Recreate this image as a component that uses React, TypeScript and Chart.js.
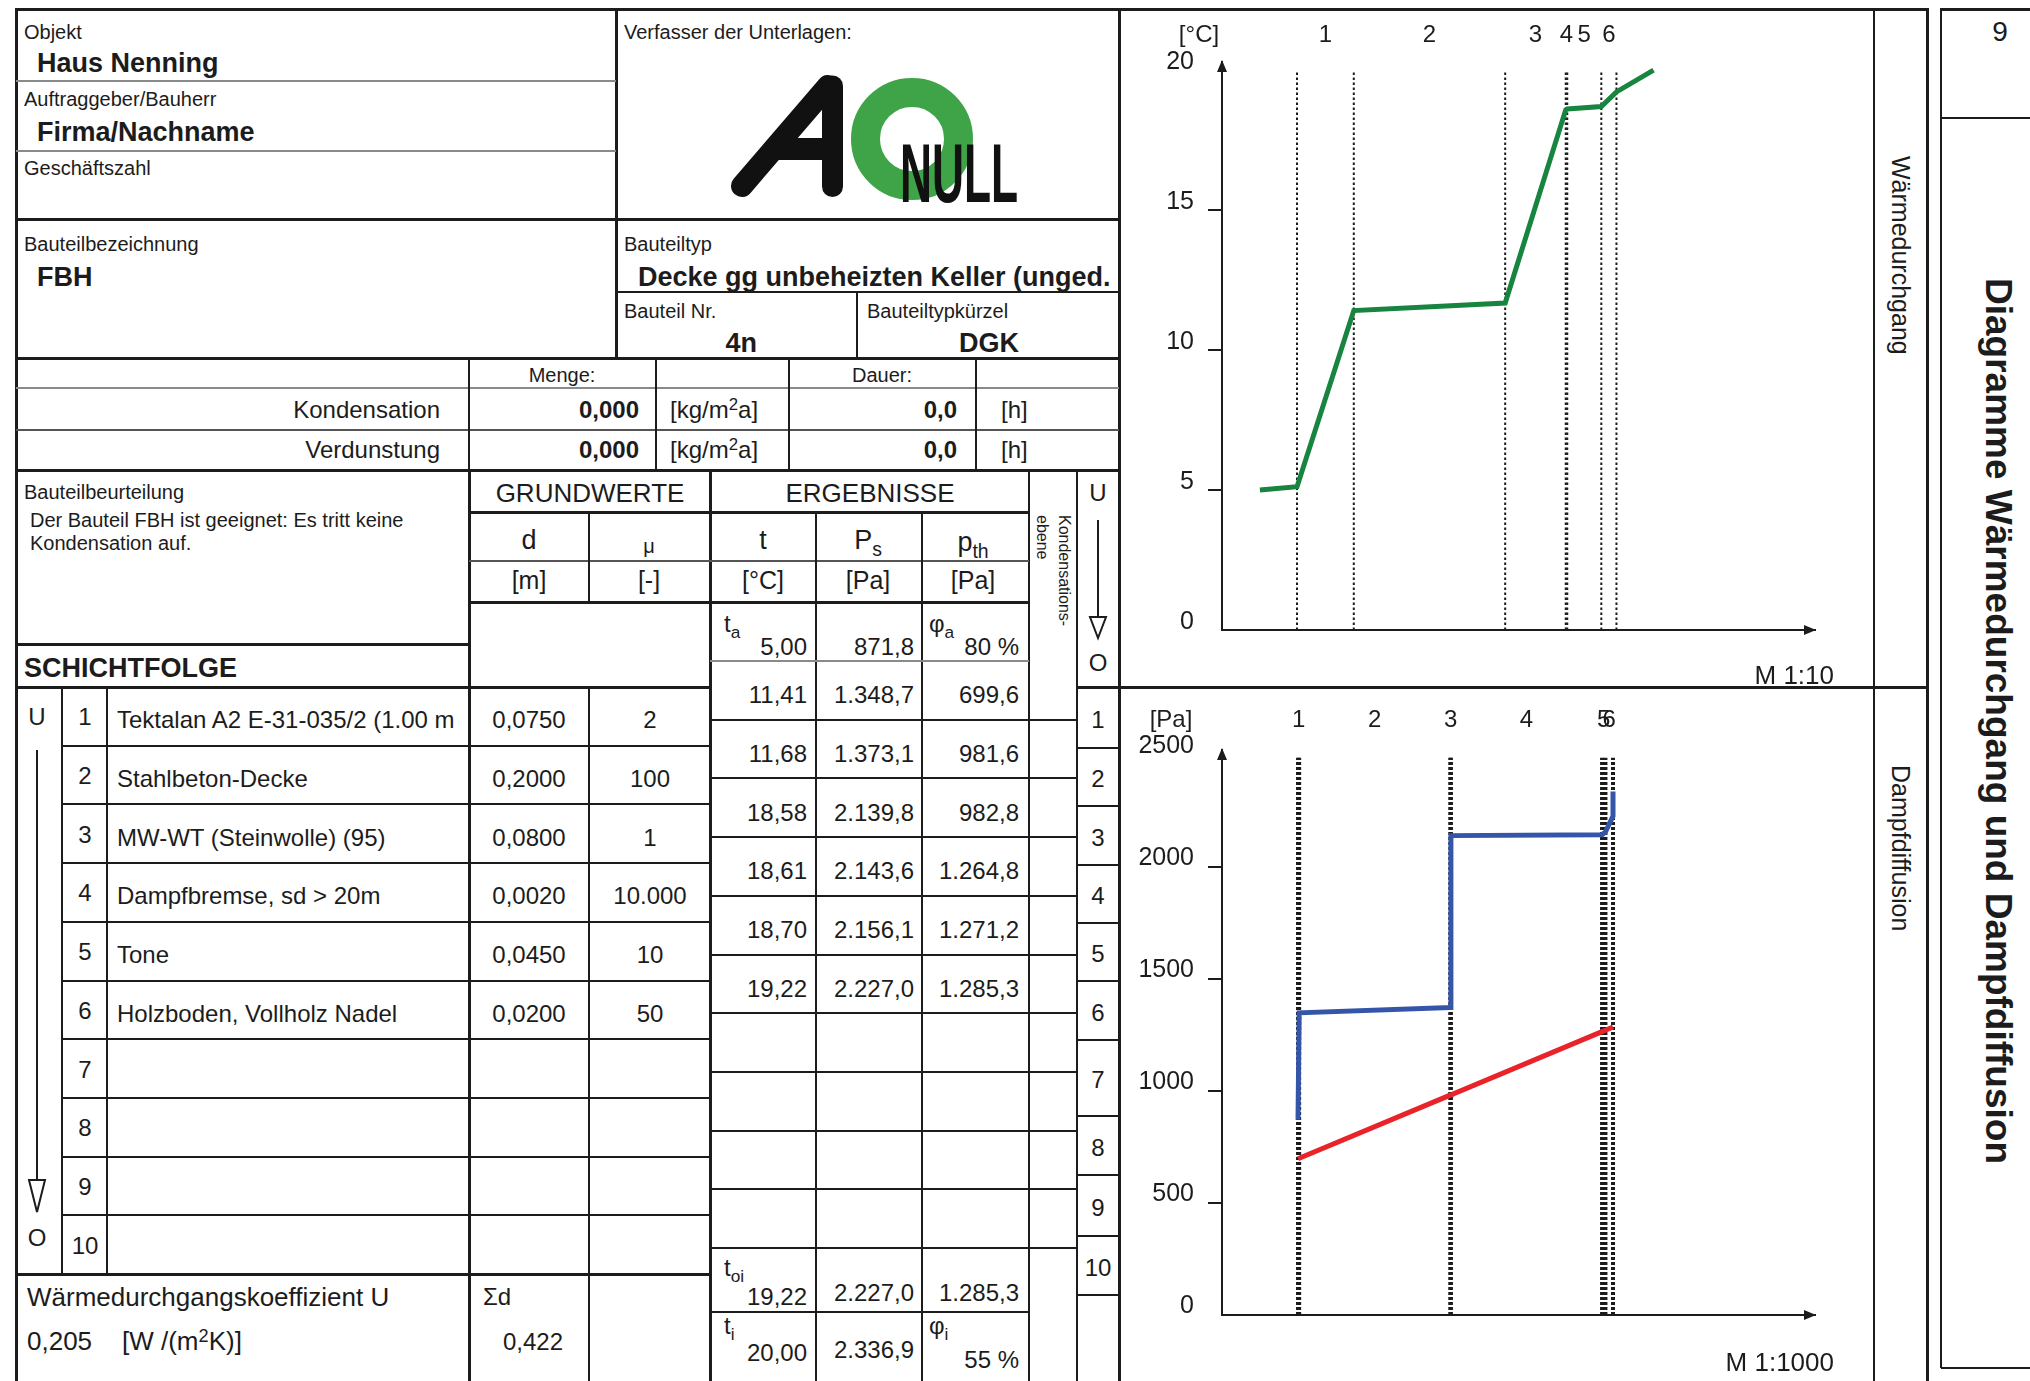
import React, { useEffect, useRef } from 'react';
import { Chart, registerables } from 'chart.js';

Chart.register(...registerables);

// ---------- component data ----------
const objectName = 'Haus Nenning';
const clientName = 'Firma/Nachname';
const elementName = 'FBH';
const elementType = 'Decke gg unbeheizten Keller (unged.';
const elementNo = '4n';
const elementCode = 'DGK';

const layerNo = [1, 2, 3, 4, 5, 6, 7, 8, 9, 10];
const layerNames = [
  'Tektalan A2 E-31-035/2 (1.00 m',
  'Stahlbeton-Decke',
  'MW-WT (Steinwolle) (95)',
  'Dampfbremse, sd > 20m',
  'Tone',
  'Holzboden, Vollholz Nadel',
];
const layerD = [0.075, 0.2, 0.08, 0.002, 0.045, 0.02];
const layerMu = [2, 100, 1, 10000, 10, 50];

// results at the interface after each layer (outside -> inside)
const interfaceT = [11.41, 11.68, 18.58, 18.61, 18.7, 19.22];
const interfacePs = [1348.7, 1373.1, 2139.8, 2143.6, 2156.1, 2227.0];
const interfacePth = [699.6, 981.6, 982.8, 1264.8, 1271.2, 1285.3];

const outsideT = 5.0;
const outsidePs = 871.8;
const outsidePhi = 80;
const outsideP = 697.4;
const surfaceOutT = 5.12;
const surfaceInT = 19.22;
const surfaceInPs = 2227.0;
const surfaceInP = 1285.3;
const insideT = 20.0;
const insidePs = 2336.9;
const insidePhi = 55;

const uValue = 0.205;
const condensationAmount = 0;
const condensationHours = 0;
const evaporationAmount = 0;
const evaporationHours = 0;

const tempTicks = [0, 5, 10, 15, 20];
const pressureTicks = [0, 500, 1000, 1500, 2000, 2500];

// width of the air boundary layer drawn on each side of the temperature profile [m]
const airBand = 0.049;

// ---------- helpers ----------
const INK = '#1c1c1c';
const FONT = '"Liberation Sans", Arial, Helvetica, sans-serif';

const fmt = (v: number, dec: number) => {
  const [i, f] = v.toFixed(dec).split('.');
  const int = i.replace(/\B(?=(\d{3})+(?!\d))/g, '.');
  return f ? `${int},${f}` : int;
};

const cumulative = (vals: number[]) => {
  const out = [0];
  vals.forEach((v) => out.push(out[out.length - 1] + v));
  return out;
};

const xD = cumulative(layerD); // positions in m
const xSd = cumulative(layerD.map((d, i) => d * layerMu[i])); // positions in sd [m]
const sumD = layerD.reduce((a, b) => a + b, 0);

type TProps = {
  x: number;
  y: number;
  a?: 'l' | 'c' | 'r';
  s?: number;
  b?: boolean;
  children: React.ReactNode;
  st?: React.CSSProperties;
};
const T = ({ x, y, a = 'l', s = 24, b = false, children, st }: TProps) => (
  <div
    style={{
      position: 'absolute',
      left: x,
      top: y,
      transform: `translate(${a === 'l' ? '0' : a === 'c' ? '-50%' : '-100%'},-50%)`,
      fontSize: s,
      fontWeight: b ? 700 : 400,
      lineHeight: 1,
      whiteSpace: 'nowrap',
      ...st,
    }}
  >
    {children}
  </div>
);
const Sub = ({ children }: { children: React.ReactNode }) => (
  <span style={{ fontSize: '0.72em', position: 'relative', top: '0.35em' }}>{children}</span>
);
const Sup = ({ children }: { children: React.ReactNode }) => (
  <span style={{ fontSize: '0.7em', position: 'relative', top: '-0.45em' }}>{children}</span>
);
const HL = ({ x1, x2, y, w = 2, c = INK }: { x1: number; x2: number; y: number; w?: number; c?: string }) => (
  <div style={{ position: 'absolute', left: x1, top: y - w / 2, width: x2 - x1, height: w, background: c }} />
);
const VL = ({ x, y1, y2, w = 2, c = INK }: { x: number; y1: number; y2: number; w?: number; c?: string }) => (
  <div style={{ position: 'absolute', left: x - w / 2, top: y1, width: w, height: y2 - y1, background: c }} />
);
const VText = ({ x, y, s, b = false, lh, children }: { x: number; y: number; s: number; b?: boolean; lh?: number; children: React.ReactNode }) => (
  <div
    style={{
      position: 'absolute',
      left: x,
      top: y,
      writingMode: 'vertical-rl',
      fontSize: s,
      fontWeight: b ? 700 : 400,
      lineHeight: lh ? `${lh}px` : 1,
      whiteSpace: 'pre',
    }}
  >
    {children}
  </div>
);
const DownArrow = ({ x, y1, y2, y3 }: { x: number; y1: number; y2: number; y3: number }) => (
  <svg style={{ position: 'absolute', left: x - 12, top: y1 }} width={24} height={y3 - y1 + 3}>
    <line x1={12} y1={0} x2={12} y2={y3 - y1} stroke={INK} strokeWidth={2} />
    <polygon points={`4,${y2 - y1} 20,${y2 - y1} 12,${y3 - y1}`} fill="#fff" stroke={INK} strokeWidth={2} />
  </svg>
);

// ---------- chart ----------
type ProfileOpts = {
  lines: { pts: { x: number; y: number }[]; color: string }[];
  bounds: number[];
  boundTop: number;
  dashW: number;
  dash: number[];
  xMin: number;
  xMax: number;
  yMax: number;
  ticks: number[];
  padTop: number;
  padBottom: number;
  mids: number[];
  labelDy: number;
  unit: string;
  unitDx: number;
  labelOffset: number;
};

const makeConfig = (o: ProfileOpts): any => {
  const topTick = o.ticks[o.ticks.length - 1];
  const decor = {
    id: 'profileDecor',
    afterDraw(chart: any) {
      const { ctx, chartArea } = chart;
      const xs = chart.scales.x;
      ctx.save();
      ctx.fillStyle = INK;
      // arrow heads on both axes
      ctx.beginPath();
      ctx.moveTo(chartArea.left, chartArea.top - 2);
      ctx.lineTo(chartArea.left - 5, chartArea.top + 10);
      ctx.lineTo(chartArea.left + 5, chartArea.top + 10);
      ctx.closePath();
      ctx.fill();
      ctx.beginPath();
      ctx.moveTo(chartArea.right + 1, chartArea.bottom);
      ctx.lineTo(chartArea.right - 11, chartArea.bottom - 5);
      ctx.lineTo(chartArea.right - 11, chartArea.bottom + 5);
      ctx.closePath();
      ctx.fill();
      // layer numbers and unit
      ctx.font = `24px ${FONT}`;
      ctx.textAlign = 'center';
      ctx.textBaseline = 'middle';
      const ly = chartArea.top + o.labelDy;
      o.mids.forEach((m, i) => ctx.fillText(String(layerNo[i]), xs.getPixelForValue(m), ly));
      ctx.fillText(o.unit, chartArea.left + o.unitDx, ly);
      ctx.restore();
    },
  };
  const datasets: any[] = [
    ...o.lines.map((l) => ({
      data: l.pts,
      borderColor: l.color,
      borderWidth: 5,
      pointRadius: 0,
      tension: 0,
      borderJoinStyle: 'miter',
    })),
    ...o.bounds.map((b) => ({
      data: [
        { x: b, y: 0 },
        { x: b, y: o.boundTop },
      ],
      borderColor: INK,
      borderWidth: o.dashW,
      borderDash: o.dash,
      borderCapStyle: 'butt',
      pointRadius: 0,
    })),
  ];
  return {
    type: 'line',
    data: { datasets },
    options: {
      animation: false,
      responsive: false,
      events: [],
      layout: { padding: { left: 0, right: 15, top: o.padTop, bottom: o.padBottom } },
      plugins: { legend: { display: false }, tooltip: { enabled: false } },
      scales: {
        x: {
          type: 'linear',
          min: o.xMin,
          max: o.xMax,
          ticks: { display: false },
          grid: { display: false },
          border: { display: true, color: INK, width: 2 },
          afterFit: (s: any) => {
            s.height = 0;
          },
        },
        y: {
          type: 'linear',
          min: 0,
          max: o.yMax,
          afterBuildTicks: (s: any) => {
            s.ticks = o.ticks.map((v) => ({ value: v }));
          },
          ticks: {
            padding: 14,
            labelOffset: o.labelOffset,
            color: INK,
            font: { family: FONT, size: 25 },
            callback: (v: any) => String(v),
          },
          grid: {
            drawOnChartArea: false,
            drawTicks: true,
            tickLength: 14,
            lineWidth: 2,
            color: (c: any) =>
              c.tick && (c.tick.value === 0 || c.tick.value === topTick) ? 'rgba(0,0,0,0)' : INK,
          },
          border: { display: true, color: INK, width: 2 },
          afterFit: (s: any) => {
            s.width = 92;
          },
        },
      },
    },
    plugins: [decor],
  };
};

const ChartCanvas = ({ left, top, w, h, opts }: { left: number; top: number; w: number; h: number; opts: ProfileOpts }) => {
  const ref = useRef<HTMLCanvasElement>(null);
  useEffect(() => {
    const chart = new Chart(ref.current as HTMLCanvasElement, makeConfig(opts));
    return () => chart.destroy();
  }, []);
  return (
    <canvas
      ref={ref}
      width={w}
      height={h}
      style={{ position: 'absolute', left, top, width: w, height: h }}
    />
  );
};

const mid = (arr: number[]) => arr.slice(0, -1).map((v, i) => (v + arr[i + 1]) / 2);

const tempProfile = [
  { x: -airBand, y: outsideT },
  { x: 0, y: surfaceOutT },
  ...interfaceT.map((t, i) => ({ x: xD[i + 1], y: t })),
  { x: xD[xD.length - 1] + airBand, y: insideT },
];
const psProfile = [
  { x: 0, y: outsidePs },
  ...interfacePs.map((p, i) => ({ x: xSd[i + 1], y: p })),
  { x: xSd[xSd.length - 1], y: insidePs },
];
const pProfile = [{ x: 0, y: outsideP }, ...interfacePth.map((p, i) => ({ x: xSd[i + 1], y: p }))];

const heatOpts: ProfileOpts = {
  lines: [{ pts: tempProfile, color: '#17843f' }],
  bounds: xD,
  boundTop: 20,
  dashW: 2,
  dash: [2.5, 2.5],
  xMin: -0.0991,
  xMax: 0.6843,
  yMax: 20.29,
  ticks: tempTicks,
  padTop: 42,
  padBottom: 50,
  mids: mid(xD),
  labelDy: -27,
  unit: '[°C]',
  unitDx: -23,
  labelOffset: -8,
};
const vapourOpts: ProfileOpts = {
  lines: [
    { pts: psProfile, color: '#3556a8' },
    { pts: pProfile, color: '#e8232a' },
  ],
  bounds: xSd,
  boundTop: 2487,
  dashW: 4,
  dash: [3, 2],
  xMin: -10.06,
  xMax: 68.41,
  yMax: 2522,
  ticks: pressureTicks,
  padTop: 60,
  padBottom: 65,
  mids: mid(xSd),
  labelDy: -30,
  unit: '[Pa]',
  unitDx: -51,
  labelOffset: -9,
};

// ---------- sheet layout ----------
const ROW_H = 58.7;
const LAYER_TOP = 687;
const RES_TOP = 661;
const uColLines = [687, 748, 806, 865, 923, 981, 1040, 1116, 1175, 1236, 1295];

const Logo = () => (
  <svg style={{ position: 'absolute', left: 700, top: 60 }} width={350} height={160} viewBox="700 60 350 160">
    <circle cx={912} cy={139} r={46.5} fill="none" stroke="#3ea447" strokeWidth={29} />
    <g stroke="#111" fill="none">
      <line x1={742} y1={186} x2={828} y2={86} strokeWidth={22} strokeLinecap="round" />
      <line x1={832.5} y1={86} x2={832.5} y2={186.5} strokeWidth={21} strokeLinecap="round" />
      <line x1={778} y1={149} x2={832} y2={149} strokeWidth={22} />
    </g>
    <text
      x={900}
      y={202}
      fontFamily={FONT}
      fontWeight={700}
      fontSize={84}
      textLength={118}
      lengthAdjust="spacingAndGlyphs"
      fill="#111"
    >
      NULL
    </text>
  </svg>
);

export default function App() {
  const faint = '#8a8a8a';
  const mid2 = '#555';
  return (
    <div
      style={{
        position: 'absolute',
        left: 0,
        top: 0,
        width: 2030,
        height: 1381,
        overflow: 'hidden',
        background: '#fff',
        fontFamily: FONT,
        color: INK,
      }}
    >
      {/* outer frame */}
      <HL x1={15} x2={1928} y={9} w={3} />
      <VL x={16} y1={8} y2={1381} w={3} />
      <VL x={1119} y1={8} y2={1381} w={3} />
      <VL x={1874} y1={9} y2={1381} w={2} />
      <VL x={1927} y1={8} y2={1381} w={3} />
      <HL x1={1119} x2={1927} y={687} w={3} />
      {/* title box */}
      <HL x1={1940} x2={2030} y={9} w={3} />
      <VL x={1941} y1={8} y2={1368} w={2} />
      <HL x1={1941} x2={2030} y={118} w={2} />
      <HL x1={1941} x2={2030} y={1368} w={2} />

      {/* header blocks */}
      <VL x={616} y1={9} y2={358} w={3} />
      <HL x1={16} x2={616} y={81} w={2} c={faint} />
      <HL x1={16} x2={616} y={151} w={2} c={faint} />
      <HL x1={16} x2={1119} y={219} w={3} />
      <HL x1={616} x2={1119} y={292} w={2} />
      <VL x={857} y1={292} y2={358} w={2} />
      <HL x1={16} x2={1119} y={358} w={3} />
      <HL x1={16} x2={1119} y={388} w={2} c={faint} />
      <HL x1={16} x2={1119} y={430} w={2} c={mid2} />
      {[469, 656, 789, 976].map((x) => (
        <VL key={x} x={x} y1={358} y2={470} w={2} />
      ))}
      <HL x1={16} x2={1119} y={470} w={3} />

      <T x={24} y={32} s={20}>Objekt</T>
      <T x={37} y={63} s={27} b>{objectName}</T>
      <T x={24} y={99} s={20}>Auftraggeber/Bauherr</T>
      <T x={37} y={132} s={27} b>{clientName}</T>
      <T x={24} y={168} s={20}>Geschäftszahl</T>
      <T x={624} y={32} s={20}>Verfasser der Unterlagen:</T>
      <Logo />

      <T x={24} y={244} s={20}>Bauteilbezeichnung</T>
      <T x={37} y={277} s={27} b>{elementName}</T>
      <T x={624} y={244} s={20}>Bauteiltyp</T>
      <T x={638} y={277} s={27} b>{elementType}</T>
      <T x={624} y={311} s={20}>Bauteil Nr.</T>
      <T x={867} y={311} s={20}>Bauteiltypkürzel</T>
      <T x={757} y={343} a="r" s={27} b>{elementNo}</T>
      <T x={1019} y={343} a="r" s={27} b>{elementCode}</T>

      <T x={562} y={375} a="c" s={20}>Menge:</T>
      <T x={882} y={375} a="c" s={20}>Dauer:</T>
      {[
        { label: 'Kondensation', amount: condensationAmount, hours: condensationHours, y: 410 },
        { label: 'Verdunstung', amount: evaporationAmount, hours: evaporationHours, y: 450 },
      ].map((r) => (
        <React.Fragment key={r.label}>
          <T x={440} y={r.y} a="r">{r.label}</T>
          <T x={639} y={r.y} a="r" b>{fmt(r.amount, 3)}</T>
          <T x={670} y={r.y}>
            [kg/m<Sup>2</Sup>a]
          </T>
          <T x={957} y={r.y} a="r" b>{fmt(r.hours, 1)}</T>
          <T x={1001} y={r.y}>[h]</T>
        </React.Fragment>
      ))}

      {/* assessment + table head */}
      <T x={24} y={492} s={20}>Bauteilbeurteilung</T>
      <T x={30} y={520} s={20}>Der Bauteil FBH ist geeignet: Es tritt keine</T>
      <T x={30} y={543} s={20}>Kondensation auf.</T>
      <HL x1={16} x2={469} y={644} w={3} />
      <T x={24} y={668} s={27} b>SCHICHTFOLGE</T>

      <VL x={469} y1={470} y2={1381} w={3} />
      <VL x={710} y1={470} y2={1381} w={3} />
      <VL x={1029} y1={470} y2={1381} w={2} />
      <VL x={1077} y1={470} y2={1381} w={2} />
      <HL x1={469} x2={1029} y={512} w={3} />
      <HL x1={469} x2={1029} y={561} w={2} c={mid2} />
      <HL x1={469} x2={1029} y={602} w={3} />
      <VL x={589} y1={512} y2={602} w={2} />
      <VL x={589} y1={687} y2={1381} w={2} />
      <VL x={816} y1={512} y2={1381} w={2} />
      <VL x={922} y1={512} y2={1381} w={2} />

      <T x={590} y={493} a="c" s={26}>GRUNDWERTE</T>
      <T x={870} y={493} a="c" s={26}>ERGEBNISSE</T>
      <T x={529} y={540} a="c" s={27}>d</T>
      <T x={649} y={546} a="c" s={20}>μ</T>
      <T x={763} y={540} a="c" s={27}>t</T>
      <T x={868} y={540} a="c" s={27}>
        P<Sub>s</Sub>
      </T>
      <T x={973} y={542} a="c" s={27}>
        p<Sub>th</Sub>
      </T>
      <T x={529} y={580} a="c" s={25}>[m]</T>
      <T x={649} y={580} a="c" s={25}>[-]</T>
      <T x={763} y={580} a="c" s={25}>[°C]</T>
      <T x={868} y={580} a="c" s={25}>[Pa]</T>
      <T x={973} y={580} a="c" s={25}>[Pa]</T>
      <VText x={1031} y={515} s={16} lh={22}>
        {'Kondensations-\nebene'}
      </VText>

      {/* U -> O column on the right */}
      <T x={1098} y={493} a="c">U</T>
      <DownArrow x={1098} y1={520} y2={617} y3={638} />
      <T x={1098} y={663} a="c">O</T>
      {uColLines.map((y, i) => (
        <HL key={y} x1={1077} x2={1119} y={y} w={i === 0 ? 3 : 2} />
      ))}
      {layerNo.map((n, i) => (
        <T key={n} x={1098} y={(uColLines[i] + uColLines[i + 1]) / 2 + 2} a="c">
          {n}
        </T>
      ))}

      {/* outside conditions */}
      <HL x1={710} x2={1029} y={RES_TOP} w={2} c={faint} />
      <T x={724} y={624}>
        t<Sub>a</Sub>
      </T>
      <T x={807} y={647} a="r">{fmt(outsideT, 2)}</T>
      <T x={914} y={647} a="r">{fmt(outsidePs, 1)}</T>
      <T x={929} y={624}>
        φ<Sub>a</Sub>
      </T>
      <T x={1019} y={647} a="r">{outsidePhi} %</T>

      {/* layer rows */}
      <HL x1={16} x2={710} y={LAYER_TOP} w={3} />
      <VL x={62} y1={LAYER_TOP} y2={1274} w={2} />
      <VL x={107} y1={LAYER_TOP} y2={1274} w={2} />
      {layerNo.map((n, i) => {
        const cy = LAYER_TOP + (i + 0.5) * ROW_H;
        return (
          <React.Fragment key={n}>
            {i > 0 && <HL x1={62} x2={710} y={LAYER_TOP + i * ROW_H} w={2} />}
            <T x={85} y={cy + 1} a="c">{n}</T>
            {i < layerNames.length && (
              <>
                <T x={117} y={cy + 4}>{layerNames[i]}</T>
                <T x={529} y={cy + 4} a="c">{fmt(layerD[i], 4)}</T>
                <T x={650} y={cy + 4} a="c">{fmt(layerMu[i], 0)}</T>
              </>
            )}
          </React.Fragment>
        );
      })}
      <T x={37} y={717} a="c">U</T>
      <DownArrow x={37} y1={750} y2={1180} y3={1212} />
      <T x={37} y={1238} a="c">O</T>

      {/* interface results */}
      {layerNo.map((n, i) => (
        <HL key={n} x1={710} x2={1077} y={RES_TOP + (i + 1) * ROW_H} w={2} />
      ))}
      {interfaceT.map((t, i) => {
        const cy = RES_TOP + (i + 0.5) * ROW_H + 5;
        return (
          <React.Fragment key={i}>
            <T x={807} y={cy} a="r">{fmt(t, 2)}</T>
            <T x={914} y={cy} a="r">{fmt(interfacePs[i], 1)}</T>
            <T x={1019} y={cy} a="r">{fmt(interfacePth[i], 1)}</T>
          </React.Fragment>
        );
      })}

      {/* footer */}
      <HL x1={16} x2={710} y={1274} w={3} />
      <T x={27} y={1297} s={26}>Wärmedurchgangskoeffizient U</T>
      <T x={27} y={1341} s={26}>{fmt(uValue, 3)}</T>
      <T x={122} y={1341} s={26}>
        [W /(m<Sup>2</Sup>K)]
      </T>
      <T x={483} y={1297} s={24}>Σd</T>
      <T x={533} y={1342} a="c">{fmt(sumD, 3)}</T>
      <T x={724} y={1268}>
        t<Sub>oi</Sub>
      </T>
      <T x={807} y={1297} a="r">{fmt(surfaceInT, 2)}</T>
      <T x={914} y={1293} a="r">{fmt(surfaceInPs, 1)}</T>
      <T x={1019} y={1293} a="r">{fmt(surfaceInP, 1)}</T>
      <HL x1={710} x2={1029} y={1312} w={2} />
      <T x={724} y={1326}>
        t<Sub>i</Sub>
      </T>
      <T x={807} y={1353} a="r">{fmt(insideT, 2)}</T>
      <T x={914} y={1350} a="r">{fmt(insidePs, 1)}</T>
      <T x={929} y={1326}>
        φ<Sub>i</Sub>
      </T>
      <T x={1019} y={1360} a="r">{insidePhi} %</T>

      {/* diagrams */}
      <ChartCanvas left={1130} top={20} w={700} h={660} opts={heatOpts} />
      <ChartCanvas left={1130} top={690} w={700} h={690} opts={vapourOpts} />
      <T x={1834} y={675} a="r" s={26}>M 1:10</T>
      <T x={1834} y={1362} a="r" s={26}>M 1:1000</T>
      <VText x={1888} y={156} s={25}>Wärmedurchgang</VText>
      <VText x={1888} y={765} s={25}>Dampfdiffusion</VText>

      <T x={2000} y={32} a="c" s={28}>9</T>
      <VText x={1980} y={278} s={37} b>
        Diagramme Wärmedurchgang und Dampfdiffusion
      </VText>
    </div>
  );
}
